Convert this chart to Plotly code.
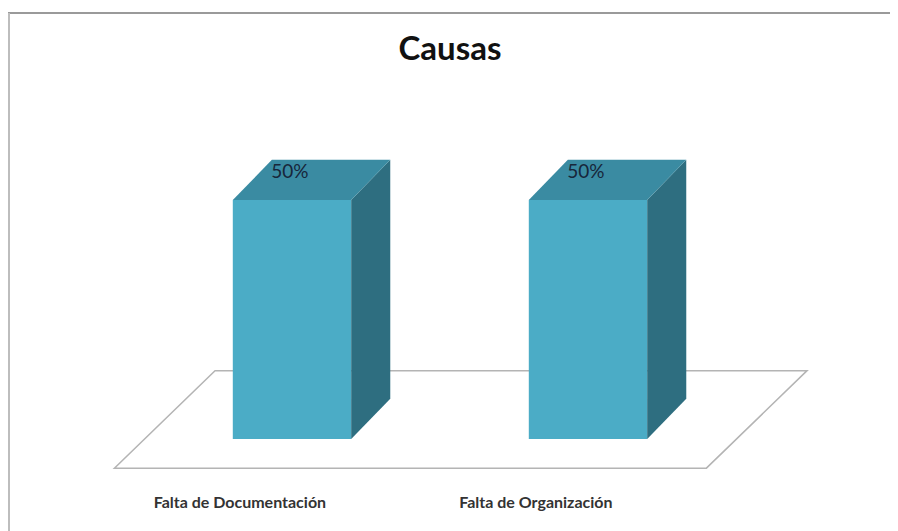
import plotly.graph_objects as go

# ---- data ----
categories = ["Falta de Documentación", "Falta de Organización"]
values = [50, 50]
value_labels = ["50%", "50%"]
title_text = "Causas"

# ---- style / layout constants ----
FRONT = "#4BACC6"
TOP = "#3A8BA2"
SIDE = "#2E6E80"
FLOOR_LINE = "#B4B4B4"
BAR_W = 0.4
DEPTH_X = 0.132      # oblique depth offset (x units)
DEPTH_Y = 8.4        # oblique depth offset (y units)
FLOOR_FRONT_Y = -6.1
FLOOR_BACK_Y = 14.3
FLOOR_LEFT = -0.6
FLOOR_RIGHT_PAD = 0.40
FLOOR_SHIFT = 0.34
FONT = "Lato, Roboto, sans-serif"
W, H = 890, 523     # page body has an 8px margin

n = len(categories)
xs = list(range(n))

fig = go.Figure()

# front faces
fig.add_trace(go.Bar(x=xs, y=values, width=BAR_W, marker=dict(color=FRONT, line=dict(width=0)),
                     hoverinfo="skip"))

for x, v in zip(xs, values):
    r = x + BAR_W / 2
    l = x - BAR_W / 2
    # side face
    fig.add_trace(go.Scatter(
        x=[r, r + DEPTH_X, r + DEPTH_X, r, r],
        y=[0, DEPTH_Y, v + DEPTH_Y, v, 0],
        mode="lines", fill="toself", fillcolor=SIDE,
        line=dict(width=0, color=SIDE), hoverinfo="skip"))
    # top face
    fig.add_trace(go.Scatter(
        x=[l, r, r + DEPTH_X, l + DEPTH_X, l],
        y=[v, v, v + DEPTH_Y, v + DEPTH_Y, v],
        mode="lines", fill="toself", fillcolor=TOP,
        line=dict(width=0, color=TOP), hoverinfo="skip"))

# value labels on top faces
fig.add_trace(go.Scatter(
    x=[x - 0.007 for x in xs], y=[v + 5.6 for v in values],
    mode="text", text=value_labels,
    textfont=dict(family=FONT, size=19, color="#17263A"), hoverinfo="skip"))

# category labels
fig.add_trace(go.Scatter(
    x=[x - 0.176 for x in xs], y=[-13.6] * n,
    mode="text", text=["<b>%s</b>" % c for c in categories],
    textfont=dict(family=FONT, size=16, color="#333333"), hoverinfo="skip"))

# floor (drawn beneath the bars)
fl_r = (n - 1) + FLOOR_RIGHT_PAD
floor_path = "M %f,%f L %f,%f L %f,%f L %f,%f Z" % (
    FLOOR_LEFT, FLOOR_FRONT_Y, fl_r, FLOOR_FRONT_Y,
    fl_r + FLOOR_SHIFT, FLOOR_BACK_Y, FLOOR_LEFT + FLOOR_SHIFT, FLOOR_BACK_Y)

fig.update_layout(
    width=W, height=H,
    margin=dict(l=0, r=0, t=0, b=0),
    paper_bgcolor="white", plot_bgcolor="white",
    showlegend=False,
    title=dict(text="<b>%s</b>" % title_text, x=442 / W, xanchor="center", y=1 - 40 / H, yanchor="middle",
               font=dict(family=FONT, size=33, color="#111111")),
    xaxis=dict(range=[-284 / 296, (W - 284) / 296], visible=False, fixedrange=True),
    yaxis=dict(range=[-(H - 431) / 4.78, 431 / 4.78], visible=False, fixedrange=True),
    shapes=[
        dict(type="path", xref="x", yref="y", path=floor_path, layer="below",
             fillcolor="white", line=dict(color=FLOOR_LINE, width=1.5)),
        dict(type="line", xref="paper", yref="paper", x0=0, x1=1, y0=1 - 5 / H, y1=1 - 5 / H,
             line=dict(color="#9A9A9A", width=2)),
        dict(type="line", xref="paper", yref="paper", x0=1 / W, x1=1 / W, y0=0, y1=1 - 5 / H,
             line=dict(color="#BDBDBD", width=2)),
    ],
)

fig.write_html("out.html")
